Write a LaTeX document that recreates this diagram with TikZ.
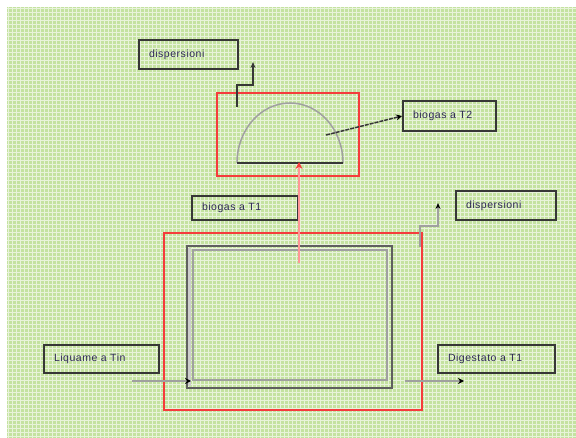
\documentclass[tikz,border=0pt]{standalone}
\usepackage{fontspec}
\setmainfont{Liberation Sans}
\usetikzlibrary{arrows.meta}
\definecolor{bggreen}{RGB}{196,226,160}
\definecolor{gridwhite}{RGB}{232,243,218}
\definecolor{boxline}{RGB}{55,55,55}
\definecolor{redline}{RGB}{245,60,60}
\definecolor{pinkline}{RGB}{255,150,150}
\definecolor{txt}{RGB}{45,40,85}
\definecolor{tankdark}{RGB}{95,95,95}
\definecolor{tanklight}{RGB}{160,160,160}
\definecolor{tankpale}{RGB}{205,205,205}
\tikzset{
  labelbox/.style={draw=boxline, line width=1.8pt, rectangle, inner xsep=10pt, inner ysep=0pt,
    align=left, text=txt, font=\fontsize{10.5}{12}\selectfont\addfontfeature{LetterSpace=5}},
  redbox/.style={draw=redline, line width=2pt},
  steparrow/.style={line width=1.5pt, -{Stealth[length=6pt,width=5pt]}},
  flowarrow/.style={draw=tanklight, line width=2pt, -{Stealth[length=6pt,width=6pt,black]}}
}
\begin{document}
\begin{tikzpicture}[x=1pt,y=-1pt]
\useasboundingbox (0,0) rectangle (576,438);
\fill[white] (0,0) rectangle (576,438);
\fill[bggreen] (7,7) rectangle (576,438);
\draw[gridwhite, line width=0.8pt, step=4pt] (7,7) grid (576,438);

% labels
\node[labelbox, minimum width=99pt, minimum height=29pt, text width=79pt] (disp1) at (188.5,54.5) {dispersioni};
\node[labelbox, minimum width=93pt, minimum height=30pt, text width=73pt] (bT2) at (449.5,116) {biogas a T2};
\node[labelbox, minimum width=106pt, minimum height=24pt, text width=86pt] (bT1) at (245,208) {biogas a T1};
\node[labelbox, minimum width=100pt, minimum height=29pt, text width=80pt] (disp2) at (506,205.5) {dispersioni};
\node[labelbox, minimum width=115pt, minimum height=28pt, text width=95pt] (liq) at (101.5,359) {Liquame a Tin};
\node[labelbox, minimum width=117pt, minimum height=28pt, text width=97pt] (dig) at (496.5,359) {Digestato a T1};

% red frames
\draw[redbox] (217,93) rectangle (359,176);
\draw[redbox] (164,233) rectangle (422,410);

% dome (gasometer)
\coordinate (domeL) at (237,163);
\coordinate (domeR) at (343,163);
\coordinate (domeBase) at (299,162);
\coordinate (domeOut) at (326,135);
\draw[tanklight, line width=1.5pt] (domeL) arc[start angle=180, end angle=0, x radius=53pt, y radius=60pt];
\draw[boxline, line width=1.5pt] (domeL) -- (domeR);

% tank
\draw[tankpale, line width=4pt] (189,248) -- (189,386);
\draw[tankdark, line width=1.5pt] (187,246) rectangle (392,388);
\draw[tanklight, line width=2pt] (193,250) rectangle (387,380);

% pink biogas arrow
\coordinate (pinkStart) at (299,263);
\draw[pinkline, line width=2.5pt, -{Stealth[length=7pt,width=7pt,redline]}] (pinkStart) -- (domeBase);

% dome to biogas a T2
\draw[boxline, line width=1.5pt, dash pattern=on 4pt off 1pt, -{Stealth[length=6pt,width=6pt,black]}] (domeOut) -- (bT2.west);

% step arrows (dispersioni)
\coordinate (s1a) at (237,107);
\coordinate (s1b) at (237,85);
\coordinate (s1c) at (253,85);
\coordinate (s1d) at (253,62);
\draw[steparrow, boxline] (s1a) -- (s1b) -- (s1c) -- (s1d);
\coordinate (s2a) at (420,247);
\coordinate (s2b) at (420,226);
\coordinate (s2c) at (438,226);
\coordinate (s2d) at (438,203);
\draw[steparrow, tanklight, -{Stealth[length=6pt,width=5pt,black]}] (s2a) -- (s2b) -- (s2c) -- (s2d);

% inflow / outflow
\coordinate (inStart) at (132,381);
\coordinate (inEnd) at (191,381);
\coordinate (outStart) at (405,381);
\coordinate (outEnd) at (464,381);
\draw[flowarrow] (inStart) -- (inEnd);
\draw[flowarrow] (outStart) -- (outEnd);
\end{tikzpicture}
\end{document}
